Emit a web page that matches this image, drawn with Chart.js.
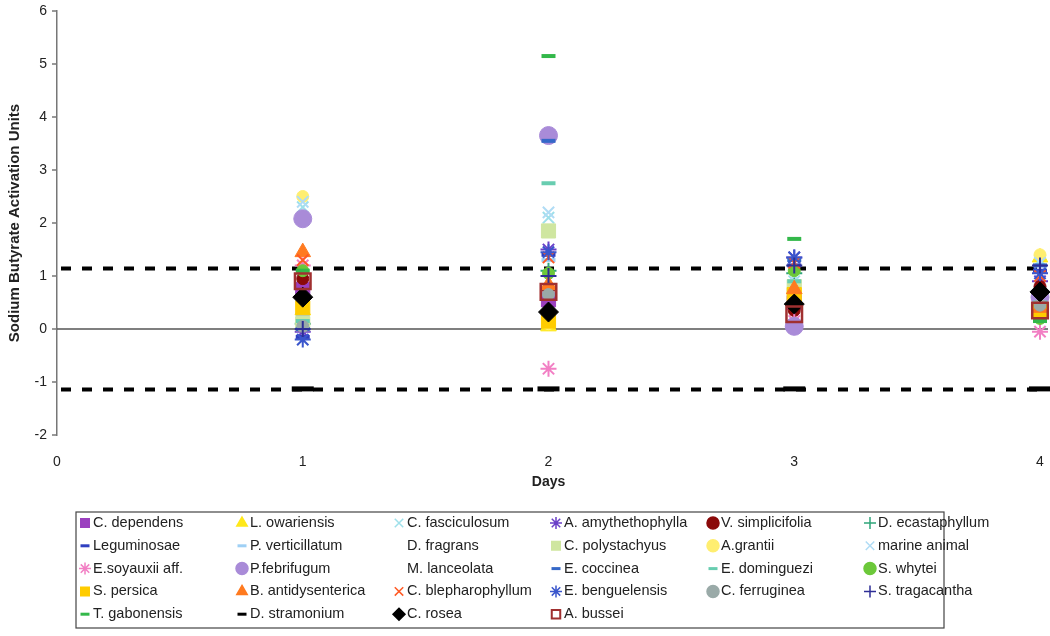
<!DOCTYPE html>
<html>
<head>
<meta charset="utf-8">
<script src="https://cdn.jsdelivr.net/npm/chart.js@4.4.1/dist/chart.umd.min.js"></script>
<style>
  html, body { margin: 0; padding: 0; background: #fff; }
  #wrap { width: 1050px; height: 636px; }
</style>
</head>
<body>
<div id="wrap"><canvas id="chart" width="1050" height="636"></canvas></div>
<script>
const days = [0, 1, 2, 3, 4];
const yTicks = [-2, -1, 0, 1, 2, 3, 4, 5, 6];
const upperLimit = 1.14;
const lowerLimit = -1.14;

const species = [
  "C. dependens", "L. owariensis", "C. fasciculosum", "A. amythethophylla", "V. simplicifolia", "D. ecastaphyllum",
  "Leguminosae", "P. verticillatum", "D. fragrans", "C. polystachyus", "A.grantii", "marine animal",
  "E.soyauxii aff.", "P.febrifugum", "M. lanceolata", "E. coccinea", "E. dominguezi", "S. whytei",
  "S. persica", "B. antidysenterica", "C. blepharophyllum", "E. benguelensis", "C. ferruginea", "S. tragacantha",
  "T. gabonensis", "D. stramonium", "C. rosea", "A. bussei"
];

// activation units on days 1..4, one row per species (same order as above)
const activation = [
  [0.75, 0.55, 0.50, 0.55],
  [0.35, 0.05, 0.75, 1.35],
  [2.30, 2.10, 0.90, 1.30],
  [-0.05, 1.50, 1.35, 0.90],
  [0.95, 0.75, 0.35, 0.80],
  [0.10, 1.10, 1.05, 0.50],
  [-0.15, 1.40, 1.20, 1.10],
  [0.25, 1.30, 0.60, 0.30],
  [0.50, 0.60, 0.40, 0.50],
  [0.10, 1.85, 0.80, 0.60],
  [2.50, 0.10, 0.70, 1.40],
  [2.40, 2.20, 1.00, 1.25],
  [1.20, -0.75, 0.15, -0.05],
  [2.08, 3.65, 0.05, 0.60],
  [0.40, 0.50, 0.30, 0.40],
  [0.00, 3.55, 1.30, 1.20],
  [0.15, 2.75, 0.90, 0.50],
  [1.10, 1.05, 1.10, 0.20],
  [0.40, 0.15, 0.65, 0.35],
  [1.45, 0.83, 0.75, 0.40],
  [1.30, 1.35, 1.25, 1.00],
  [-0.20, 1.45, 1.35, 1.05],
  [0.05, 0.65, 0.50, 0.45],
  [0.00, 1.00, 1.20, 1.20],
  [1.10, 5.15, 1.70, 0.15],
  [-1.13, -1.13, -1.13, -1.13],
  [0.60, 0.32, 0.47, 0.70],
  [0.90, 0.70, 0.28, 0.35]
];

const colors = [
  "#9b40bf", "#ffe81a", "#9fe0ea", "#6a3fc8", "#8b0a0a", "#2fa57a",
  "#2f3fc0", "#9fd0f5", "rgba(255,255,255,0)", "#cfe6a0", "#ffee70", "#b0dcf5",
  "#f27fc4", "#a98bd8", "rgba(255,255,255,0)", "#3568c8", "#68cdb0", "#6cc83a",
  "#ffcc00", "#ff7a1f", "#ff5a24", "#3a56cc", "#9aaaa8", "#2e2e96",
  "#33b84a", "#000000", "#000000", "#a03030"
];

const markers = [
  "rect", "triangle", "crossRot", "star", "circle", "cross",
  "line", "line", "line", "rect", "circle", "crossRot",
  "star", "circle", "line", "line", "line", "circle",
  "rect", "triangle", "crossRot", "star", "circle", "cross",
  "line", "line", "rectRot", "rect"
];

function markerSize(style, i) {
  if (species[i] === "D. stramonium") return { r: 11, w: 5 };
  if (species[i] === "A. bussei") return { r: 11, w: 2.5, open: true };
  switch (style) {
    case "circle": return { r: species[i] === "P.febrifugum" ? 9 : 6, w: 1 };
    case "rect": return { r: 10, w: 1 };
    case "rectRot": return { r: 10, w: 1 };
    case "triangle": return { r: 9, w: 1 };
    case "line": return { r: 7, w: 4 };
    default: return { r: 8, w: 2 };
  }
}

const datasets = species.map((name, i) => {
  const m = markerSize(markers[i], i);
  return {
    label: name,
    data: activation[i].map((v, j) => ({ x: days[j + 1], y: v })),
    pointStyle: markers[i],
    pointRadius: m.r,
    pointHoverRadius: m.r,
    pointBorderWidth: m.w,
    borderColor: colors[i],
    backgroundColor: m.open ? "rgba(0,0,0,0)" : colors[i],
    showLine: false,
    clip: false,
    order: species.length - i
  };
});

const refLines = {
  id: "refLines",
  beforeDatasetsDraw(chart) {
    const { ctx, chartArea, scales } = chart;
    const x0 = chartArea.left, x1 = chartArea.right + 8;
    ctx.save();
    // y tick marks
    ctx.strokeStyle = "#777";
    ctx.lineWidth = 1.5;
    scales.y.ticks.forEach(t => {
      const y = scales.y.getPixelForValue(t.value);
      ctx.beginPath(); ctx.moveTo(x0 - 5, y); ctx.lineTo(x0, y); ctx.stroke();
    });
    ctx.strokeStyle = "#555";
    const yz = scales.y.getPixelForValue(0);
    ctx.beginPath(); ctx.moveTo(x0, yz); ctx.lineTo(x1, yz); ctx.stroke();
    ctx.strokeStyle = "#000";
    ctx.lineWidth = 4;
    ctx.setLineDash([10, 11]);
    [upperLimit, lowerLimit].forEach(v => {
      const y = scales.y.getPixelForValue(v);
      ctx.beginPath(); ctx.moveTo(x0 + 4, y); ctx.lineTo(x1, y); ctx.stroke();
    });
    ctx.restore();
  }
};

const gridLegend = {
  id: "gridLegend",
  afterDraw(chart) {
    const ctx = chart.ctx;
    const box = { left: 76, top: 512, right: 944, bottom: 628 };
    ctx.save();
    ctx.strokeStyle = "#444";
    ctx.lineWidth = 1.2;
    ctx.strokeRect(box.left, box.top, box.right - box.left, box.bottom - box.top);
    ctx.font = "14.5px 'Liberation Sans', Arial, sans-serif";
    ctx.textBaseline = "middle";
    ctx.fillStyle = "#222";
    species.forEach((name, i) => {
      const col = i % 6, row = Math.floor(i / 6);
      const tx = 93 + col * 157;
      const ty = 523 + row * 22.8;
      const m = markerSize(markers[i], i);
      ctx.save();
      ctx.fillStyle = m.open ? "rgba(0,0,0,0)" : colors[i];
      ctx.strokeStyle = colors[i];
      ctx.lineWidth = markers[i] === "line" ? 3 : (m.open ? 2 : 1.5);
      Chart.helpers.drawPoint(ctx, {
        pointStyle: markers[i],
        radius: markers[i] === "line" ? 4.5 : 6,
        borderWidth: ctx.lineWidth,
        rotation: 0
      }, tx - 8, ty);
      ctx.restore();
      ctx.fillText(name, tx, ty);
    });
    ctx.restore();
  }
};

new Chart(document.getElementById("chart"), {
  type: "scatter",
  data: { datasets },
  options: {
    responsive: false,
    animation: false,
    layout: { autoPadding: false, padding: { top: 11, right: 10, bottom: 141, left: 0 } },
    plugins: { legend: { display: false }, tooltip: { enabled: false } },
    scales: {
      x: {
        type: "linear", min: 0, max: 4,
        afterBuildTicks: s => { s.ticks = days.map(v => ({ value: v })); },
        afterFit: s => { s.height = 60; },
        ticks: { maxRotation: 0, padding: 0, color: "#222", font: { size: 14, lineHeight: 1, family: "'Liberation Sans', Arial" } },
        grid: { display: false, drawTicks: true, tickLength: 20 },
        border: { display: false },
        title: { display: true, text: "Days", color: "#222", padding: { top: 4, bottom: 4 },
                 font: { size: 14, weight: "bold", family: "'Liberation Sans', Arial" } }
      },
      y: {
        min: -2, max: 6,
        afterBuildTicks: s => { s.ticks = yTicks.map(v => ({ value: v })); },
        afterFit: s => { s.width = 57; },
        ticks: { padding: 0, color: "#222", font: { size: 14, lineHeight: 1, family: "'Liberation Sans', Arial" } },
        grid: { drawOnChartArea: false, tickLength: 10, color: "rgba(0,0,0,0)" },
        border: { color: "#777", width: 1.5 },
        title: { display: true, text: "Sodium Butyrate Activation Units", color: "#222", padding: { top: 6, bottom: 0 },
                 font: { size: 15, weight: "bold", family: "'Liberation Sans', Arial" } }
      }
    }
  },
  plugins: [refLines, gridLegend]
});
</script>
</body>
</html>
